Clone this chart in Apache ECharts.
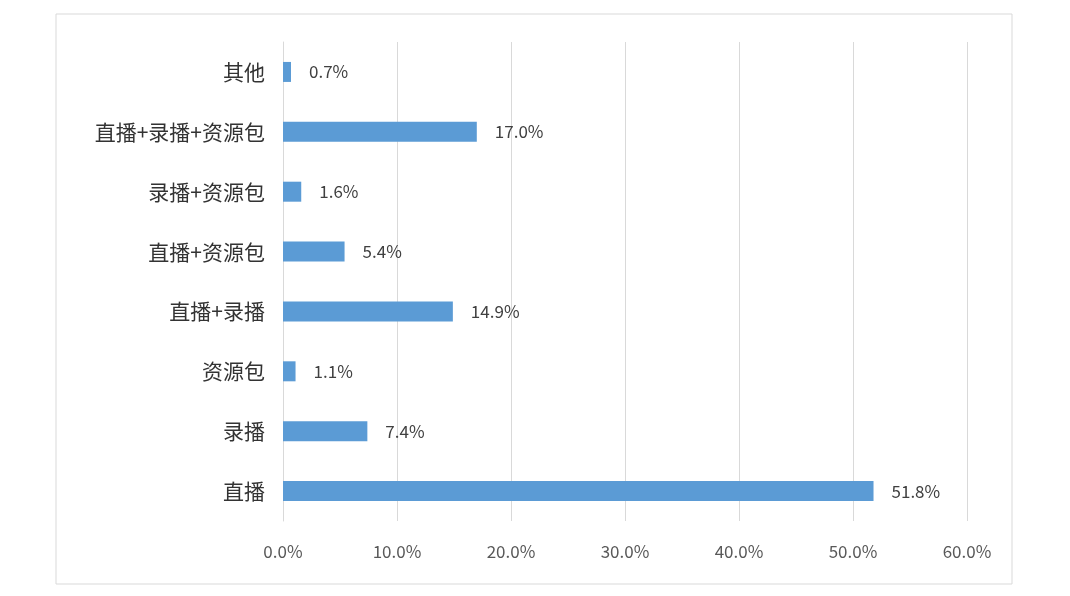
<!DOCTYPE html>
<html>
<head>
<meta charset="utf-8">
<script src="https://cdn.jsdelivr.net/npm/echarts@6/dist/echarts.min.js"></script>
<style>
  html, body { margin: 0; padding: 0; background: #fff; }
  #chart { width: 1070px; height: 596px; }
</style>
</head>
<body>
<div id="chart"></div>
<script>
const categories = ["直播", "录播", "资源包", "直播+录播", "直播+资源包", "录播+资源包", "直播+录播+资源包", "其他"];
const values = [51.8, 7.4, 1.1, 14.9, 5.4, 1.6, 17.0, 0.7];
const tickStep = 10;
const tickMax = 60;

var myChart = echarts.init(document.getElementById("chart"));
option = {
    animation: false,
    graphic: [
        {
            type: "rect",
            shape: { x: 56, y: 14, width: 956, height: 570 },
            style: { fill: "none", stroke: "#d9d9d9", lineWidth: 1 },
        },
    ],
    grid: { left: 283, right: 103, top: 42, bottom: 75 },
    xAxis: {
        type: "value",
        min: 0,
        max: tickMax,
        interval: tickStep,
        axisLine: { show: false },
        axisTick: { show: false },
        splitLine: { lineStyle: { color: "#d9d9d9" } },
        axisLabel: {
            formatter: (v) => v.toFixed(1) + "%",
            color: "#595959",
            fontSize: 17,
            margin: 22,
            fontFamily: "Noto Sans CJK SC",
        },
    },
    yAxis: {
        type: "category",
        data: categories,
        axisLine: { lineStyle: { color: "#d9d9d9" } },
        axisTick: { show: false },
        axisLabel: { color: "#333333", fontSize: 21, margin: 18, fontFamily: "Noto Sans CJK SC" },
    },
    series: [
        {
            type: "bar",
            data: values,
            barWidth: 20,
            itemStyle: { color: "#5b9bd5" },
            label: {
                show: true,
                position: "right",
                distance: 18,
                formatter: (p) => p.value.toFixed(1) + "%",
                color: "#404040",
                fontSize: 17,
                fontFamily: "Noto Sans CJK SC",
            },
        },
    ],
};
myChart.setOption(option, true);
</script>
</body>
</html>
